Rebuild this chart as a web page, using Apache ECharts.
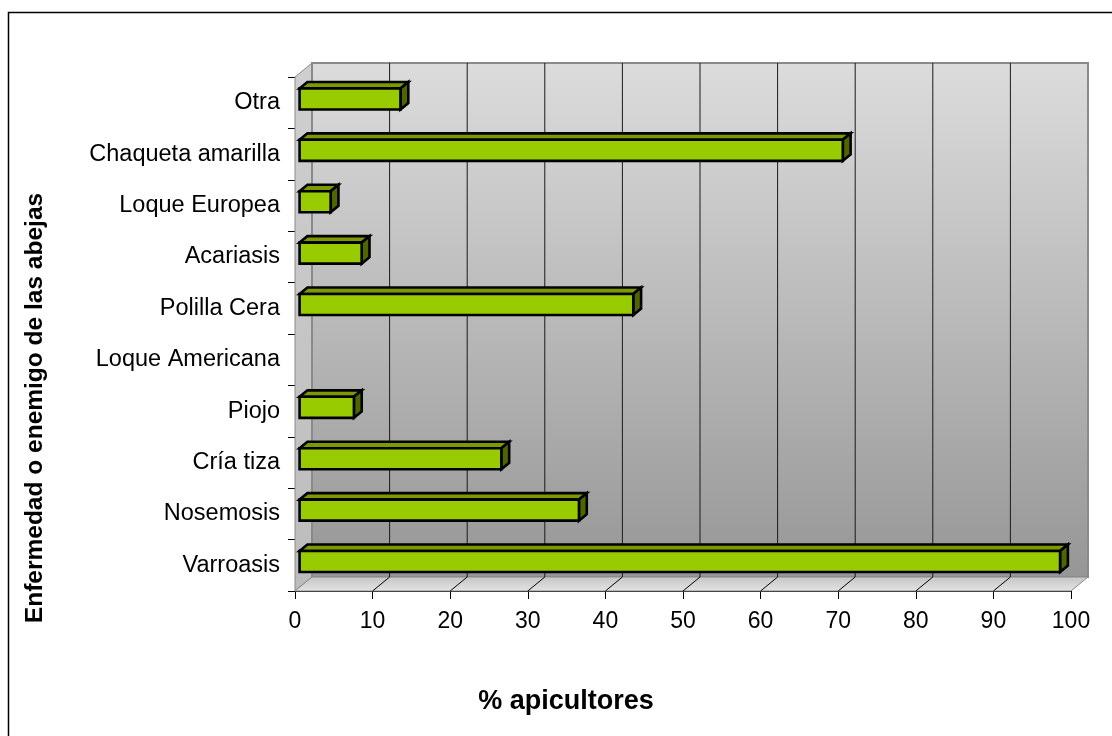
<!DOCTYPE html>
<html>
<head>
<meta charset="utf-8">
<title>Enfermedades y enemigos de las abejas</title>
<script src="https://cdn.jsdelivr.net/npm/echarts@6/dist/echarts.min.js"></script>
<style>
  html, body { margin: 0; padding: 0; background: #ffffff; }
  #chart { width: 1112px; height: 736px; }
</style>
</head>
<body>
<div id="chart"></div>
<script>
// Categories listed bottom to top, as the value axis runs upward
const categories = ['Varroasis', 'Nosemosis', 'Cría tiza', 'Piojo', 'Loque Americana',
                    'Polilla Cera', 'Acariasis', 'Loque Europea', 'Chaqueta amarilla', 'Otra'];
// Percentage of beekeepers reporting each disease or pest
const values = [98, 36, 26, 7, 0, 43, 8, 4, 70, 13];
// Value axis ticks
const xMin = 0, xMax = 100, xStep = 10;

const FONT = "'Liberation Sans', Arial, sans-serif";
// Perspective offset of the back wall relative to the front plane
const DX = 17, DY = -14;

const chart = echarts.init(document.getElementById('chart'), null, { renderer: 'canvas' });

// Walls, floor and grid lines of the pseudo-3D box
function renderWalls(params, api) {
  const cs = params.coordSys;
  const L = cs.x, T = cs.y, R = cs.x + cs.width, B = cs.y + cs.height;
  const children = [];
  // back wall
  children.push({
    type: 'rect',
    shape: { x: L + DX, y: T + DY, width: cs.width, height: cs.height },
    style: {
      fill: new echarts.graphic.LinearGradient(0, 0, 0, 1, [
        { offset: 0, color: '#dcdcdc' }, { offset: 1, color: '#969696' }
      ]),
      stroke: '#8a8a8a', lineWidth: 2
    }
  });
  // left side wall
  children.push({
    type: 'polygon',
    shape: { points: [[L, T], [L + DX, T + DY], [L + DX, B + DY], [L, B]] },
    style: {
      fill: new echarts.graphic.LinearGradient(0, 0, 0, 1, [
        { offset: 0, color: '#cfcfcf' }, { offset: 1, color: '#bcbcbc' }
      ]),
      stroke: '#8a8a8a', lineWidth: 1
    }
  });
  // floor
  children.push({
    type: 'polygon',
    shape: { points: [[L, B], [L + DX, B + DY], [R + DX, B + DY], [R, B]] },
    style: {
      fill: new echarts.graphic.LinearGradient(0, 0, 0, 1, [
        { offset: 0, color: '#c4c4c4' }, { offset: 1, color: '#e4e4e4' }
      ]),
      stroke: '#8a8a8a', lineWidth: 1
    }
  });
  // vertical grid lines on the back wall and their diagonals across the floor
  for (let v = xMin; v <= xMax; v += xStep) {
    const x = api.coord([v, 0])[0];
    const edge = (v === xMin || v === xMax);
    children.push({
      type: 'line',
      shape: { x1: x + DX, y1: T + DY, x2: x + DX, y2: B + DY },
      style: { stroke: edge ? '#8a8a8a' : '#1a1a1a', lineWidth: edge ? 2 : 1 }
    });
    if (v !== xMin && v !== xMax) {
      children.push({
        type: 'line',
        shape: { x1: x, y1: B, x2: x + DX, y2: B + DY },
        style: { stroke: '#000', lineWidth: 1 }
      });
    }
  }
  return { type: 'group', children: children };
}

// 3D box bars: front face, top face and right side face
function renderBar(params, api) {
  const v = api.value(0);
  const ci = api.value(1);
  if (!v) return null;
  const band = api.size([0, 1])[1];
  const p0 = api.coord([0, ci]);
  const p1 = api.coord([v, ci]);
  const off = 0.27, depth = 0.46;
  const fx = DX * off, fy = DY * off;
  const bx = DX * depth, by = DY * depth;
  const h = band * 0.41;
  const x0 = p0[0] + fx, x1 = p1[0] + fx;
  const yT = p0[1] + fy - h / 2, yB = p0[1] + fy + h / 2;
  const stroke = { stroke: '#000', lineWidth: 2.6, lineJoin: 'miter' };
  return {
    type: 'group',
    children: [
      {
        type: 'polygon',
        shape: { points: [[x0, yT], [x0 + bx, yT + by], [x1 + bx, yT + by], [x1, yT]] },
        style: Object.assign({ fill: '#7c9a00' }, stroke)
      },
      {
        type: 'polygon',
        shape: { points: [[x1, yT], [x1 + bx, yT + by], [x1 + bx, yB + by], [x1, yB]] },
        style: Object.assign({ fill: '#4f6600' }, stroke)
      },
      {
        type: 'rect',
        shape: { x: x0, y: yT, width: x1 - x0, height: yB - yT },
        style: Object.assign({ fill: '#99cc00' }, stroke)
      }
    ]
  };
}

const option = {
  animation: false,
  backgroundColor: '#ffffff',
  grid: { left: 295, top: 77, width: 776, height: 514, containLabel: false },
  xAxis: {
    type: 'value',
    min: xMin, max: xMax, interval: xStep,
    axisLine: { show: true, lineStyle: { color: '#000', width: 1 } },
    axisTick: { show: true, length: 8, lineStyle: { color: '#000' } },
    axisLabel: { color: '#000', fontFamily: FONT, fontSize: 23, margin: 19 },
    splitLine: { show: false }
  },
  yAxis: {
    type: 'category',
    data: categories,
    axisLine: { show: true, lineStyle: { color: '#000', width: 1 } },
    axisTick: { show: true, length: 7, lineStyle: { color: '#000' } },
    axisLabel: { color: '#000', fontFamily: FONT, fontSize: 23.5, margin: 15, padding: [0, 0, 8, 0] },
    splitLine: { show: false }
  },
  graphic: [
    {
      type: 'rect', z: -10,
      shape: { x: 8.5, y: 12.5, width: 1200, height: 800 },
      style: { fill: null, stroke: '#000', lineWidth: 1.5 }
    },
    {
      type: 'text', x: 566, y: 702,
      style: {
        text: '% apicultores', font: 'bold 27px ' + FONT,
        fill: '#000', align: 'center', verticalAlign: 'middle'
      }
    },
    {
      type: 'text', x: 35, y: 408, rotation: Math.PI / 2,
      style: {
        text: 'Enfermedad o enemigo de las abejas', font: 'bold 24.5px ' + FONT,
        fill: '#000', align: 'center', verticalAlign: 'middle'
      }
    }
  ],
  series: [
    {
      type: 'custom',
      name: 'paredes',
      renderItem: renderWalls,
      data: [[0, 0]],
      silent: true,
      z: 1
    },
    {
      type: 'custom',
      name: '% apicultores',
      renderItem: renderBar,
      encode: { x: 0, y: 1 },
      data: values.map((v, i) => [v, i]),
      z: 5
    }
  ]
};

chart.setOption(option);
</script>
</body>
</html>
